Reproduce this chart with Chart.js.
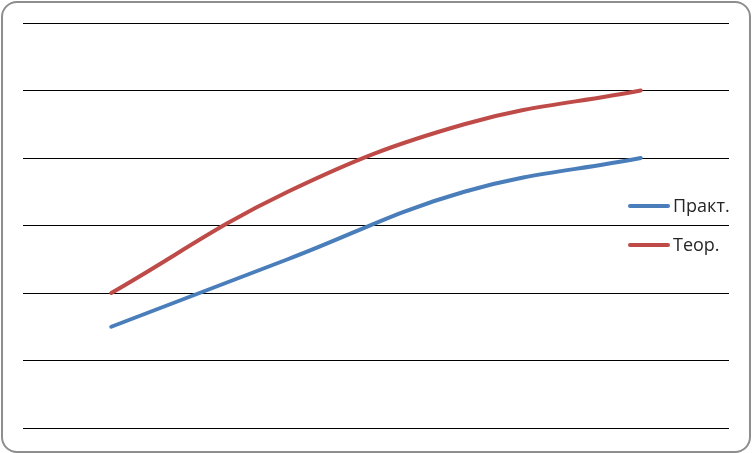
<!DOCTYPE html>
<html>
<head>
<meta charset="utf-8">
<script src="https://cdn.jsdelivr.net/npm/chart.js@4"></script>
<style>
html,body{margin:0;padding:0;background:#fff;}
#wrap{position:relative;width:752px;height:453px;}
#frame{position:absolute;left:1px;top:1px;width:746px;height:448px;border:2px solid #8e8e8e;border-radius:16px;pointer-events:none;}
canvas{position:absolute;left:0;top:0;}
</style>
</head>
<body>
<div id="wrap"><canvas id="c" width="752" height="453"></canvas><div id="frame"></div></div>
<script>
const categories = ['1', '2', '3', '4'];
const praktValues = [1.5, 2.5, 3.5, 4];
const teorValues = [2, 3.5, 4.5, 5];
const seriesNames = ['Практ.', 'Теор.'];

const legendPlugin = {
  id: 'sideLegend',
  afterDraw(chart) {
    const ctx = chart.ctx;
    const rows = [206, 245];
    ctx.save();
    chart.data.datasets.forEach((ds, i) => {
      const y = rows[i];
      ctx.strokeStyle = ds.borderColor;
      ctx.lineWidth = 4;
      ctx.lineCap = 'round';
      ctx.beginPath();
      ctx.moveTo(630, y);
      ctx.lineTo(668, y);
      ctx.stroke();
      ctx.fillStyle = '#262626';
      ctx.font = '18px "Open Sans", "Noto Sans", sans-serif';
      ctx.textBaseline = 'middle';
      ctx.fillText(ds.label, 673, y + 1);
    });
    ctx.restore();
  }
};

new Chart(document.getElementById('c'), {
  type: 'line',
  data: {
    labels: categories,
    datasets: [
      { label: seriesNames[0], data: praktValues, borderColor: '#4a7ebb', borderWidth: 4, pointRadius: 0, tension: 0.4, fill: false, borderCapStyle: 'round' },
      { label: seriesNames[1], data: teorValues, borderColor: '#be4b48', borderWidth: 4, pointRadius: 0, tension: 0.4, fill: false, borderCapStyle: 'round' }
    ]
  },
  options: {
    responsive: false,
    animation: false,
    devicePixelRatio: 1,
    layout: { padding: { left: 23, top: 23, right: 23, bottom: 25 } },
    plugins: { legend: { display: false }, tooltip: { enabled: false } },
    scales: {
      x: {
        type: 'category',
        offset: true,
        grid: { display: false, drawTicks: false },
        border: { display: false },
        ticks: { display: false }
      },
      y: {
        min: 0, max: 6,
        ticks: { display: false, stepSize: 1 },
        grid: { color: '#000', lineWidth: 1, drawTicks: false },
        border: { display: false }
      }
    }
  },
  plugins: [legendPlugin]
});
</script>
</body>
</html>
